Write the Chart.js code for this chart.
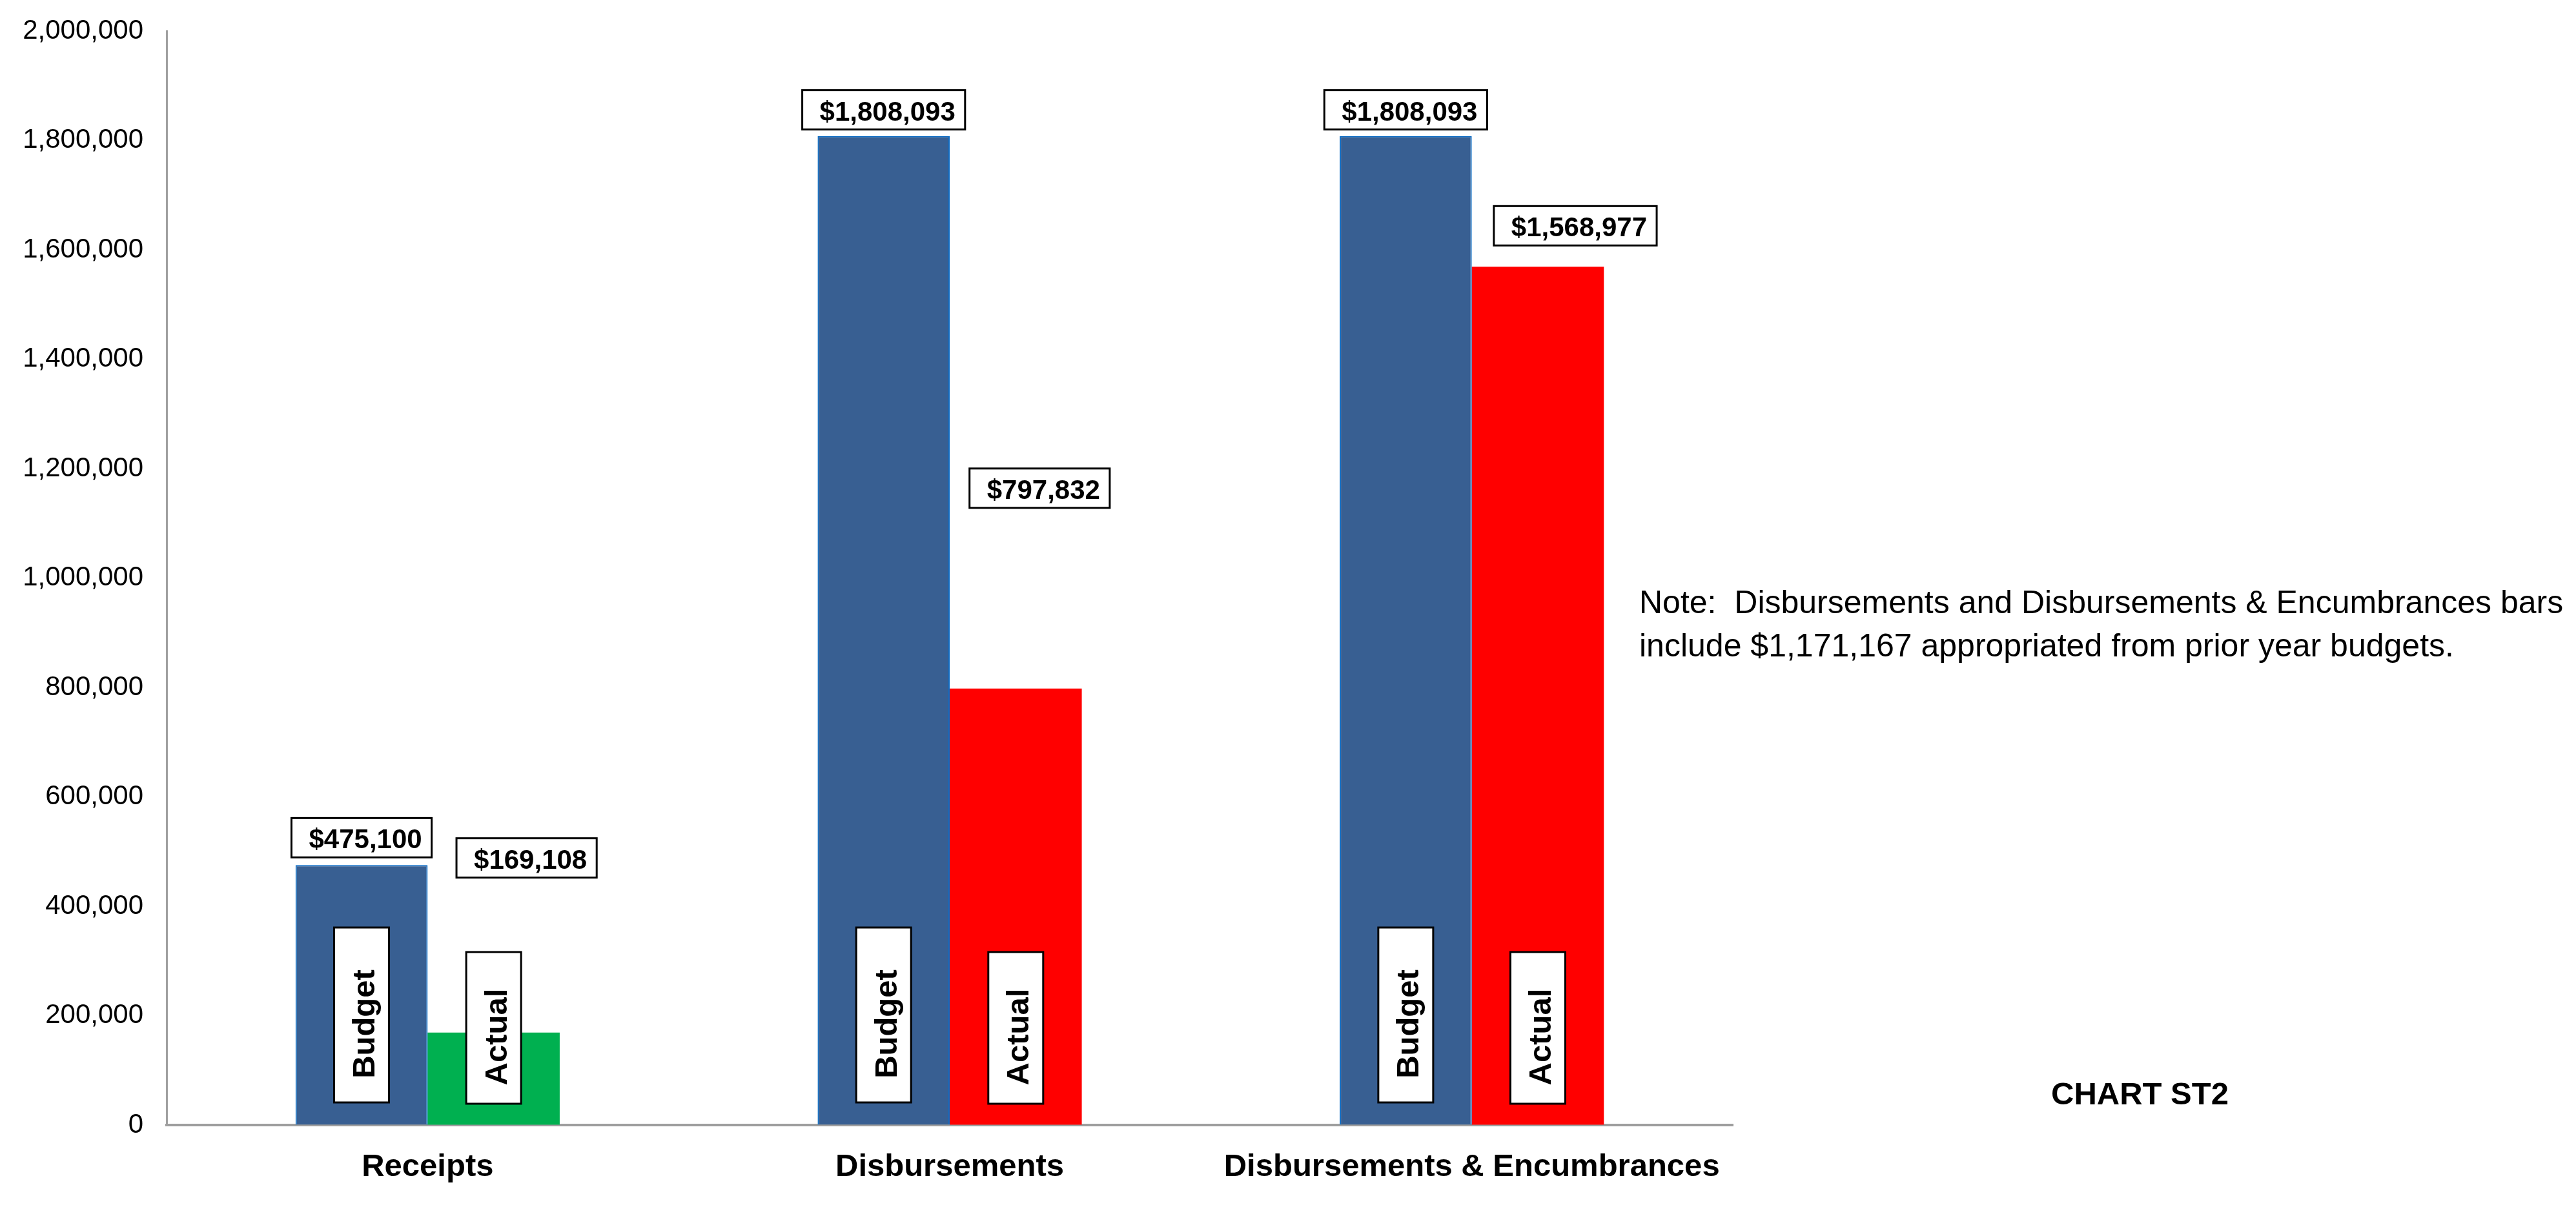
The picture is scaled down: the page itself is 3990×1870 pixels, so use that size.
<!DOCTYPE html>
<html>
<head>
<meta charset="utf-8">
<script src="https://cdn.jsdelivr.net/npm/chart.js@4"></script>
<style>
html,body{margin:0;padding:0;background:#fff;}
canvas{display:block;}
</style>
</head>
<body>
<canvas id="chartST2" width="3990" height="1870"></canvas>
<script>
const categories = ['Receipts', 'Disbursements', 'Disbursements & Encumbrances'];
const seriesNames = ['Budget', 'Actual'];
const budget = [475100, 1808093, 1808093];
const actual = [169108, 797832, 1568977];
const yMin = 0, yMax = 2000000, yStep = 200000;
const noteLines = [
  'Note:  Disbursements and Disbursements & Encumbrances bars',
  'include $1,171,167 appropriated from prior year budgets.'
];
const chartTag = 'CHART ST2';

const FONT = "'Liberation Sans', Arial, sans-serif";
const actualColors = ['#00B050', '#FF0000', '#FF0000'];

// value boxes: [shift from bar centre, gap above bar top]
const valueBoxOffsets = [
  [[0, 12], [0, 10], [0, 10]],
  [[51, 240], [37, 280], [58, 33]]
];
// upright "Budget"/"Actual" boxes, distances up from the x axis
const nameBoxes = [{top: 306, bottom: 35}, {top: 268, bottom: 33}];

const money = v => '$' + v.toLocaleString('en-US');

const labelsPlugin = {
  id: 'st2Labels',
  afterDatasetsDraw(chart) {
    const ctx = chart.ctx;
    const base = chart.scales.y.getPixelForValue(0);
    ctx.save();
    ctx.lineWidth = 3;
    ctx.strokeStyle = '#000';
    chart.data.datasets.forEach((ds, i) => {
      chart.getDatasetMeta(i).data.forEach((bar, j) => {
        // value box over the bar
        ctx.font = 'bold 42px ' + FONT;
        const txt = money(ds.data[j]);
        const w = ctx.measureText(txt).width + 42, h = 61;
        const [dx, gap] = valueBoxOffsets[i][j];
        const left = bar.x + dx - w / 2, bottom = bar.y - gap;
        ctx.fillStyle = '#fff';
        ctx.fillRect(left, bottom - h, w, h);
        ctx.strokeRect(left, bottom - h, w, h);
        ctx.fillStyle = '#000';
        ctx.textAlign = 'left';
        ctx.textBaseline = 'alphabetic';
        ctx.fillText(txt, left + 27, bottom - 14);

        // series name, turned on its side
        const nb = nameBoxes[i];
        const top = base - nb.top, bot = base - nb.bottom, bw = 85;
        ctx.fillStyle = '#fff';
        ctx.fillRect(bar.x - bw / 2, top, bw, bot - top);
        ctx.strokeRect(bar.x - bw / 2, top, bw, bot - top);
        ctx.save();
        ctx.translate(bar.x + 20, (top + bot) / 2 + 14);
        ctx.rotate(-Math.PI / 2);
        ctx.font = 'bold 49px ' + FONT;
        ctx.textAlign = 'center';
        ctx.fillStyle = '#000';
        ctx.fillText(seriesNames[i], 0, 0);
        ctx.restore();
      });
    });
    ctx.restore();
  },
  afterDraw(chart) {
    const ctx = chart.ctx;
    ctx.save();
    ctx.fillStyle = '#000';
    ctx.textAlign = 'left';
    ctx.textBaseline = 'alphabetic';
    ctx.font = '50px ' + FONT;
    noteLines.forEach((line, k) => ctx.fillText(line, 2539, 950 + k * 67));
    ctx.font = 'bold 49px ' + FONT;
    ctx.fillText(chartTag, 3177, 1711);
    ctx.restore();
  }
};

new Chart(document.getElementById('chartST2'), {
  type: 'bar',
  data: {
    labels: categories,
    datasets: [
      {
        label: seriesNames[0],
        data: budget,
        backgroundColor: '#385F92',
        borderColor: '#0F6DC4',
        borderWidth: 2,
        borderSkipped: 'bottom'
      },
      {
        label: seriesNames[1],
        data: actual,
        backgroundColor: actualColors,
        borderWidth: 0
      }
    ]
  },
  options: {
    responsive: false,
    devicePixelRatio: 1,
    animation: false,
    categoryPercentage: 0.506,
    barPercentage: 1,
    layout: {padding: {left: 0, top: 48, right: 1306, bottom: 0}},
    plugins: {
      legend: {display: false},
      tooltip: {enabled: false}
    },
    scales: {
      x: {
        grid: {display: true, drawOnChartArea: false, drawTicks: false, color: 'rgba(0,0,0,0)'},
        border: {display: true, color: '#9E9E9E', width: 4},
        ticks: {
          color: '#000',
          padding: 36,
          font: {family: FONT, size: 49, weight: 'bold'}
        },
        afterFit: s => { s.height = 127; }
      },
      y: {
        min: yMin,
        max: yMax,
        grid: {display: true, drawOnChartArea: false, drawTicks: false, color: 'rgba(0,0,0,0)'},
        border: {display: true, color: '#A0A0A0', width: 3},
        ticks: {
          stepSize: yStep,
          color: '#000',
          padding: 36,
          font: {family: FONT, size: 42},
          callback: v => v.toLocaleString('en-US')
        },
        afterFit: s => {
          s.width = 258;
          // tick padding should only push labels sideways, not shrink the plot
          s.paddingTop = 26;
          s.paddingBottom = 26;
        }
      }
    }
  },
  plugins: [labelsPlugin]
});
</script>
</body>
</html>
